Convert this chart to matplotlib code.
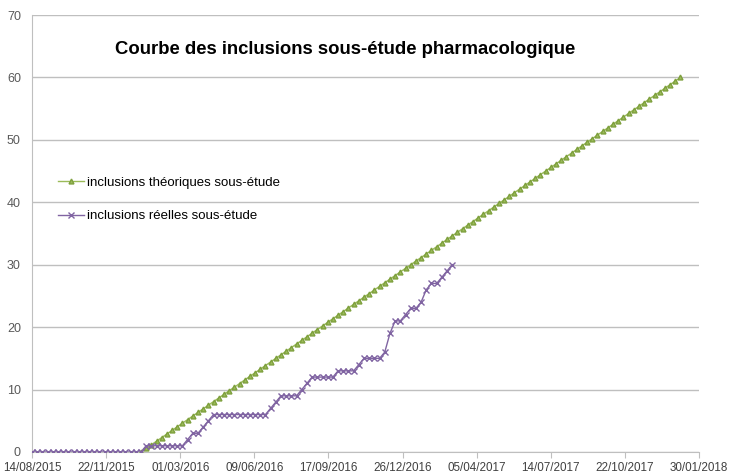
import matplotlib
matplotlib.use("Agg")
import matplotlib.pyplot as plt
import matplotlib.dates as mdates
import pandas as pd

plt.rcParams['font.family'] = ['Liberation Sans', 'DejaVu Sans']

titre = "Courbe des inclusions sous-étude pharmacologique"
nom_theo = "inclusions théoriques sous-étude"
nom_reel = "inclusions réelles sous-étude"

# inclusions reelles, un point par semaine a partir du 14/08/2015
reelles = [0] * 22 + [1] * 8 + [2, 3, 3, 4, 5] + [6] * 11 + [7, 8] + [9] * 4 + [10, 11] \
    + [12] * 5 + [13] * 4 + [14] + [15] * 4 \
    + [16, 19, 21, 21, 22, 23, 23, 24, 26, 27, 27, 28, 29, 30]

# inclusions theoriques, un point par semaine a partir du 08/01/2016
theoriques = [
    0.0, 0.58, 1.15, 1.73, 2.31, 2.88, 3.46, 4.04, 4.62, 5.19, 5.77, 6.35, 6.92,
    7.50, 8.08, 8.65, 9.23, 9.81, 10.38, 10.96, 11.54, 12.12, 12.69, 13.27, 13.85,
    14.42, 15.00, 15.58, 16.15, 16.73, 17.31, 17.88, 18.46, 19.04, 19.62, 20.19,
    20.77, 21.35, 21.92, 22.50, 23.08, 23.65, 24.23, 24.81, 25.38, 25.96, 26.54,
    27.12, 27.69, 28.27, 28.85, 29.42, 30.00, 30.58, 31.15, 31.73, 32.31, 32.88,
    33.46, 34.04, 34.62, 35.19, 35.77, 36.35, 36.92, 37.50, 38.08, 38.65, 39.23,
    39.81, 40.38, 40.96, 41.54, 42.12, 42.69, 43.27, 43.85, 44.42, 45.00, 45.58,
    46.15, 46.73, 47.31, 47.88, 48.46, 49.04, 49.62, 50.19, 50.77, 51.35, 51.92,
    52.50, 53.08, 53.65, 54.23, 54.81, 55.38, 55.96, 56.54, 57.12, 57.69, 58.27,
    58.85, 59.42, 60.00,
]

dates_reel = pd.date_range("2015-08-14", periods=len(reelles), freq="7D")
dates_theo = pd.date_range("2016-01-08", periods=len(theoriques), freq="7D")

fig = plt.figure(figsize=(7.31, 4.75), dpi=100)
ax = fig.add_axes([32 / 731, 23 / 475, 667 / 731, 437 / 475])

ax.plot(dates_theo, theoriques, color="#9BBB59", lw=1, marker="^", ms=3.5,
        mec="#7EA03E", label=nom_theo, zorder=3)
ax.plot(dates_reel, reelles, color="#8064A2", lw=1, marker="x", ms=5,
        mew=1, label=nom_reel, zorder=4)

ax.set_ylim(0, 70)
ax.set_yticks(range(0, 71, 10))
x0 = pd.Timestamp("2015-08-14")
x1 = pd.Timestamp("2018-01-30")
ax.set_xlim(x0, x1)
ax.set_xticks(pd.date_range(x0, x1, freq="100D"))
ax.xaxis.set_major_formatter(mdates.DateFormatter("%d/%m/%Y"))

ax.grid(axis="y", color="#BFBFBF", lw=1)
ax.set_axisbelow(True)
for s in ["top", "right"]:
    ax.spines[s].set_visible(False)
for s in ["left", "bottom"]:
    ax.spines[s].set_color("#BFBFBF")
ax.tick_params(axis="y", length=0, pad=8, labelsize=9, labelcolor="#595959")
ax.tick_params(axis="x", length=4, color="#BFBFBF", pad=3, labelsize=8.4,
               labelcolor="#404040")

fig.text(345 / 731, 1 - 50 / 475, titre, ha="center", va="center",
         fontsize=13.3, fontweight="bold")

ax.legend(loc="upper left", bbox_to_anchor=(46 / 731, 1 - 165 / 475),
          bbox_transform=fig.transFigure, frameon=False, fontsize=9.5,
          handlelength=2, labelspacing=1.6, handletextpad=0.2)

fig.savefig("out.png", dpi=100)
